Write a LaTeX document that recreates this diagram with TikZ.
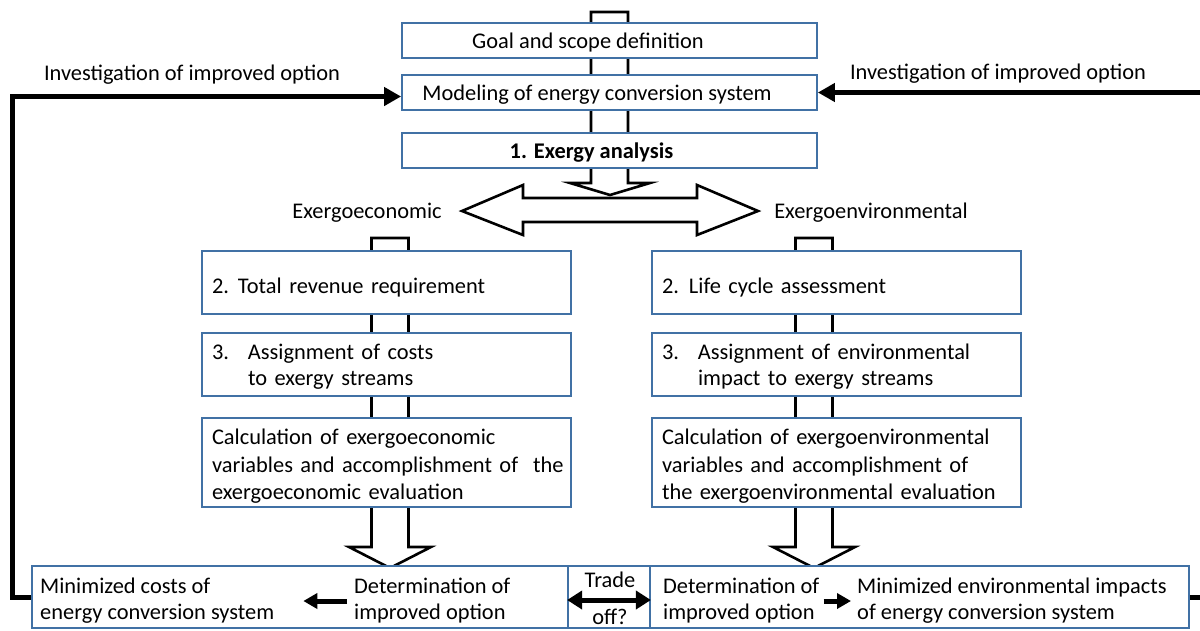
\documentclass[tikz,border=0pt]{standalone}
\usepackage{fontspec}
\setmainfont{Carlito}
\usetikzlibrary{arrows.meta}
\definecolor{boxblue}{RGB}{65,113,165}
\newcommand{\boxstrut}{\rule{0pt}{20pt}}
\begin{document}
\begin{tikzpicture}[x=1pt,y=-1pt,
  font=\fontsize{22.4}{26}\selectfont,
  box/.style={draw=boxblue,line width=1.8pt,fill=white,inner xsep=10pt,inner ysep=0pt,align=left},
  lbl/.style={inner sep=0pt,align=left},
  hollow/.style={draw=black,line width=2.6pt,fill=white,line join=miter},
  fb/.style={draw=black,line width=5pt,-{Triangle[length=17pt,width=18pt]}},
  blk/.style={draw=black,line width=5pt,-{Triangle[length=14pt,width=15pt]}}]
\useasboundingbox (0,0) rectangle (1200,630);
\clip (0,0) rectangle (1200,630);
% block arrows behind the boxes
\draw[hollow] (591,12) -- (628,12) -- (628,183) -- (650,183) -- (610,195) -- (570,183) -- (591,183) -- cycle;
\draw[hollow] (462,211) -- (523,185) -- (523,198) -- (697,198) -- (697,185) -- (758,211)
  -- (697,235) -- (697,222) -- (523,222) -- (523,235) -- cycle;
\draw[hollow] (371.5,238) -- (408.5,238) -- (408.5,547) -- (431,547) -- (390,568) -- (349,547) -- (371.5,547) -- cycle;
\draw[hollow] (795.5,238) -- (832.5,238) -- (832.5,547) -- (855,547) -- (814,568) -- (773,547) -- (795.5,547) -- cycle;
% top
\node[box,align=center,minimum width=415,minimum height=35] (goal) at (609.5,40.5) {\boxstrut Goal and scope definition\hspace*{43pt}};
\node[box,align=center,minimum width=415,minimum height=35] (model) at (609.5,92.5) {\boxstrut Modeling of energy conversion system\hspace*{25pt}};
\node[box,align=center,minimum width=415,minimum height=35] (exa) at (609.5,150.5) {\boxstrut\textbf{1. Exergy analysis}\hspace*{36pt}};
\node[lbl] (ecoL) at (367,213) {Exergoeconomic};
\node[lbl] (envL) at (871,213) {Exergoenvironmental};
\node[lbl] (invL) at (192,75) {Investigation of improved option};
\node[lbl] (invR) at (998,74) {Investigation of improved option};
% exergoeconomic column
\node[box,minimum width=369,minimum height=63,text width=349] (trr) at (386.5,282.5) {\rule{0pt}{25pt}\makebox[26pt][l]{2.}Total revenue requirement};
\node[box,minimum width=369,minimum height=63,text width=349] (asg) at (386.5,364.5) {\boxstrut\makebox[36pt][l]{3.}Assignment of costs\\\hspace*{36pt}to exergy streams};
\node[box,minimum width=369,minimum height=89,text width=349,font=\fontsize{22.4}{27.5}\selectfont] (calc) at (386.5,462.5) {\rule{0pt}{23pt}Calculation of exergoeconomic\\\mbox{variables and accomplishment of~ the}\\exergoeconomic evaluation};
% exergoenvironmental column
\node[box,minimum width=369,minimum height=63,text width=349] (lca) at (836.5,282.5) {\rule{0pt}{25pt}\makebox[27pt][l]{2.}Life cycle assessment};
\node[box,minimum width=369,minimum height=63,text width=349] (asgE) at (836.5,364.5) {\boxstrut\makebox[36pt][l]{3.}Assignment of environmental\\\hspace*{36pt}impact to exergy streams};
\node[box,minimum width=369,minimum height=89,text width=349,font=\fontsize{22.4}{27.5}\selectfont] (calcE) at (836.5,462.5) {\rule{0pt}{23pt}Calculation of exergoenvironmental\\variables and accomplishment of\\\mbox{the exergoenvironmental evaluation}};
% bottom row
\node[box,minimum width=536,minimum height=62] (costs) at (300,597) {};
\node[box,minimum width=82,minimum height=62] (trade) at (609,597) {};
\node[box,minimum width=539,minimum height=62] (env) at (919.5,597) {};
\node[lbl,anchor=west] (mcsT) at (40,601) {Minimized costs of\\energy conversion system};
\node[lbl,anchor=west] (detL) at (354,601) {Determination of\\improved option};
\node[lbl] (tradeT) at (610,580) {Trade};
\node[lbl] (tradeB) at (610,617) {off?};
\node[lbl,anchor=west] (detR) at (663,601) {Determination of\\improved option};
\node[lbl,anchor=west] (mciT) at (857,601) {Minimized environmental impacts\\of energy conversion system};
\path[blk,shorten <=7pt,shorten >=29pt] (detL.west) -- (mcsT.east);
\path[blk,shorten <=4pt,shorten >=6pt] (detR.east) -- (mciT.west);
\path[blk,{Triangle[length=15pt,width=18pt]}-{Triangle[length=15pt,width=18pt]}] ([yshift=-3pt]trade.west) -- ([yshift=-3pt]trade.east);
% feedback loops
\path[fb] (costs.west) -- ++(-19,0) |- ([yshift=-4pt]model.west);
\path[fb] (env.east) -- ++(22,0) |- (model.east);
\end{tikzpicture}
\end{document}
